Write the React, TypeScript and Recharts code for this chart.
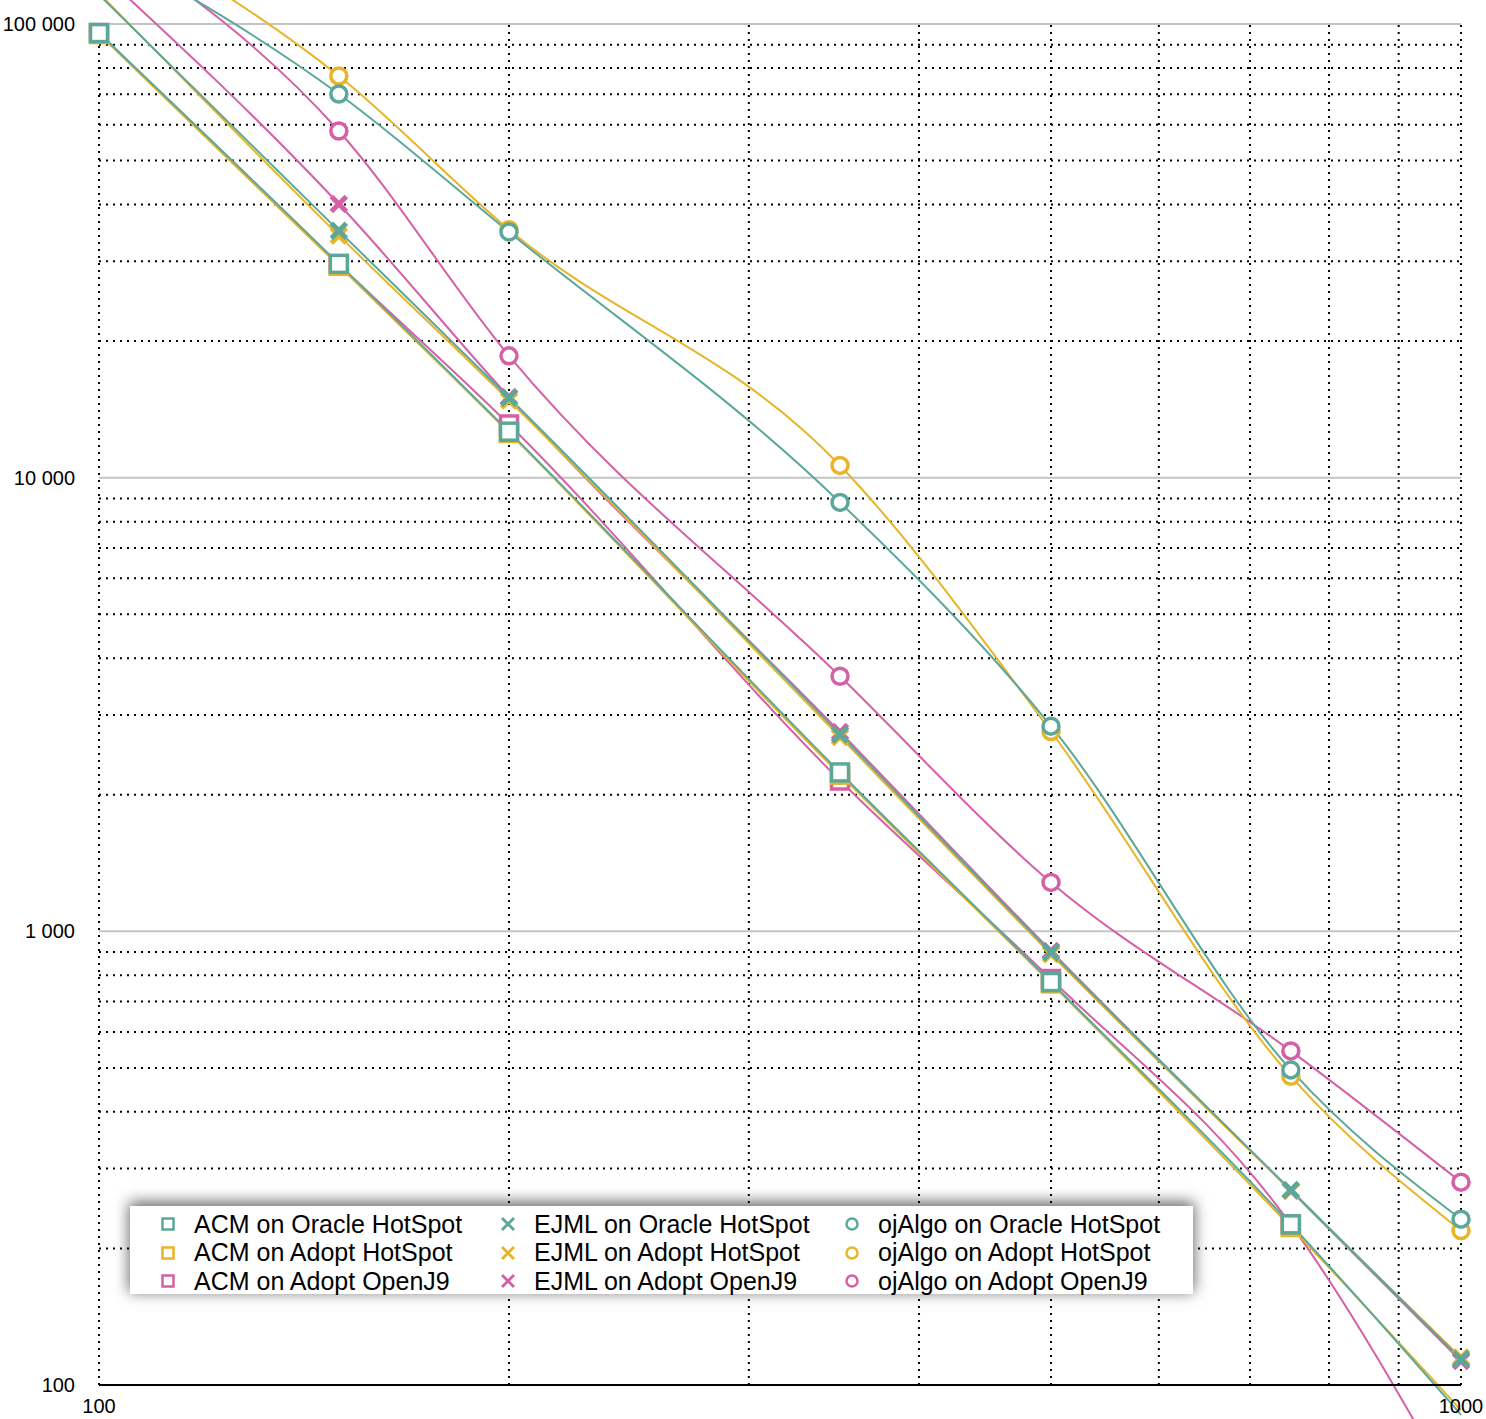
import React from "react";
import {
  Legend,
  Line,
  LineChart,
  ReferenceLine,
  XAxis,
  YAxis,
} from "recharts";

// matrix size (x) and execution time (y), both on log axes
const sizes = [100, 150, 200, 350, 500, 750, 1000];

const acmOracleHotSpot = [95500, 29600, 12630, 2240, 773, 226, 86];
const acmAdoptHotSpot = [95000, 29300, 12550, 2215, 768, 223, 88];
const acmAdoptOpenJ9 = [95500, 29500, 13100, 2150, 785, 226, 55];
const ejmlOracleHotSpot = [116000, 35000, 15000, 2716, 899, 269, 114];
const ejmlAdoptHotSpot = [117000, 34200, 14800, 2680, 890, 268, 115];
const ejmlAdoptOpenJ9 = [131000, 40100, 15050, 2750, 905, 268, 113];
const ojAlgoOracleHotSpot = [150000, 70100, 34800, 8820, 2833, 495, 232];
const ojAlgoAdoptHotSpot = [170000, 76800, 35200, 10640, 2757, 479, 219];
const ojAlgoAdoptOpenJ9 = [160000, 58100, 18560, 3650, 1282, 545, 280];

const yTicks = [100, 1000, 10000, 100000];
const yMinor = [
  200, 300, 400, 500, 600, 700, 800, 900,
  2000, 3000, 4000, 5000, 6000, 7000, 8000, 9000,
  20000, 30000, 40000, 50000, 60000, 70000, 80000, 90000,
];
const xTicks = [100, 1000];
const xGrid = [100, 200, 300, 400, 500, 600, 700, 800, 900, 1000];

const TEAL = "#5ba89b";
const YELLOW = "#e8b428";
const PINK = "#d660a6";

type Kind = "square" | "cross" | "circle";

const series: { key: string; name: string; values: number[]; color: string; kind: Kind }[] = [
  { key: "acmOracleHotSpot", name: "ACM on Oracle HotSpot", values: acmOracleHotSpot, color: TEAL, kind: "square" },
  { key: "acmAdoptHotSpot", name: "ACM on Adopt HotSpot", values: acmAdoptHotSpot, color: YELLOW, kind: "square" },
  { key: "acmAdoptOpenJ9", name: "ACM on Adopt OpenJ9", values: acmAdoptOpenJ9, color: PINK, kind: "square" },
  { key: "ejmlOracleHotSpot", name: "EJML on Oracle HotSpot", values: ejmlOracleHotSpot, color: TEAL, kind: "cross" },
  { key: "ejmlAdoptHotSpot", name: "EJML on Adopt HotSpot", values: ejmlAdoptHotSpot, color: YELLOW, kind: "cross" },
  { key: "ejmlAdoptOpenJ9", name: "EJML on Adopt OpenJ9", values: ejmlAdoptOpenJ9, color: PINK, kind: "cross" },
  { key: "ojAlgoOracleHotSpot", name: "ojAlgo on Oracle HotSpot", values: ojAlgoOracleHotSpot, color: TEAL, kind: "circle" },
  { key: "ojAlgoAdoptHotSpot", name: "ojAlgo on Adopt HotSpot", values: ojAlgoAdoptHotSpot, color: YELLOW, kind: "circle" },
  { key: "ojAlgoAdoptOpenJ9", name: "ojAlgo on Adopt OpenJ9", values: ojAlgoAdoptOpenJ9, color: PINK, kind: "circle" },
];

const data = sizes.map((size, i) => {
  const row: Record<string, number> = { size };
  series.forEach((s) => (row[s.key] = s.values[i]));
  return row;
});

// pink drawn first, teal last (teal sits on top in the original)
const drawOrder = [PINK, YELLOW, TEAL].flatMap((c) => series.filter((s) => s.color === c));

const FONT = '"Liberation Sans", Arial, Helvetica, sans-serif';

function Glyph({ kind, color, cx, cy, s }: { kind: Kind; color: string; cx: number; cy: number; s: number }) {
  const big = s > 6.5;
  if (kind === "square") {
    return (
      <rect x={cx - s} y={cy - s} width={2 * s} height={2 * s} fill="#fff" stroke={color} strokeWidth={big ? 3.5 : 2.5} />
    );
  }
  if (kind === "circle") {
    return <circle cx={cx} cy={cy} r={s} fill="#fff" stroke={color} strokeWidth={big ? 3.5 : 2.5} />;
  }
  return (
    <g stroke={color} strokeWidth={big ? 5 : 3}>
      <line x1={cx - s} y1={cy - s} x2={cx + s} y2={cy + s} />
      <line x1={cx - s} y1={cy + s} x2={cx + s} y2={cy - s} />
    </g>
  );
}

function makeDot(kind: Kind, color: string) {
  return (props: any) => {
    const { cx, cy, value, index } = props;
    if (value == null || value < 100 || value > 100000 || cx == null || cy == null) {
      return <g key={`d-${index}`} />;
    }
    const s = kind === "circle" ? 8 : kind === "square" ? 8.5 : 7.5;
    return (
      <g key={`d-${index}`}>
        <Glyph kind={kind} color={color} cx={cx} cy={cy} s={s} />
      </g>
    );
  };
}

const fmt = (v: number) => String(v).replace(/\B(?=(\d{3})+(?!\d))/g, " ");

function LegendBox() {
  const cols = [0, 1, 2].map((c) => series.slice(c * 3, c * 3 + 3));
  const colLeft = [24, 364, 708];
  return (
    <div
      style={{
        position: "relative",
        width: 1063,
        height: 88,
        background: "#fff",
        boxShadow: "0 -3px 14px 1px rgba(0,0,0,0.6)",
        fontFamily: FONT,
        fontSize: 25,
        color: "#000",
      }}
    >
      {cols.map((col, ci) =>
        col.map((s, ri) => (
          <div
            key={s.key}
            style={{
              position: "absolute",
              left: colLeft[ci],
              top: 4 + ri * 28.5,
              height: 28,
              display: "flex",
              alignItems: "center",
              whiteSpace: "nowrap",
            }}
          >
            <svg width={28} height={28} style={{ marginRight: 12 }}>
              <Glyph kind={s.kind} color={s.color} cx={14} cy={14} s={s.kind === "cross" ? 6 : 5.5} />
            </svg>
            {s.name}
          </div>
        ))
      )}
    </div>
  );
}

export default function App() {
  return (
    <div style={{ position: "absolute", left: 0, top: 0, width: 1486, height: 1419, background: "#fff" }}>
      <style>{`.recharts-wrapper [clip-path] { clip-path: none !important; }`}</style>
      <LineChart
        width={1486}
        height={1419}
        data={data}
        margin={{ top: 24, right: 25, bottom: 0, left: 0 }}
      >
        {yMinor.map((v) => (
          <ReferenceLine key={`ym-${v}`} y={v} stroke="#000" strokeWidth={2} strokeDasharray="2 5" />
        ))}
        {xGrid.map((v) => (
          <ReferenceLine key={`xg-${v}`} x={v} stroke="#000" strokeWidth={2} strokeDasharray="2 5" />
        ))}
        {yTicks.slice(1).map((v) => (
          <ReferenceLine key={`yM-${v}`} y={v} stroke="#c4c4c4" strokeWidth={2} />
        ))}
        <XAxis
          dataKey="size"
          type="number"
          scale="log"
          domain={[100, 1000]}
          ticks={xTicks}
          allowDataOverflow
          height={34}
          tickSize={0}
          tickMargin={14}
          axisLine={{ stroke: "#000", strokeWidth: 2 }}
          tickLine={false}
          tick={{ fill: "#000", fontSize: 20, fontFamily: FONT }}
          interval={0}
        />
        <YAxis
          type="number"
          scale="log"
          domain={[100, 100000]}
          ticks={yTicks}
          allowDataOverflow
          width={99}
          tickSize={0}
          tickMargin={24}
          axisLine={false}
          tickLine={false}
          tickFormatter={fmt}
          tick={{ fill: "#000", fontSize: 20, fontFamily: FONT }}
          interval={0}
        />
        {drawOrder.map((s) => (
          <Line
            key={s.key}
            dataKey={s.key}
            name={s.name}
            type="monotone"
            stroke={s.color}
            strokeWidth={2}
            dot={makeDot(s.kind, s.color)}
            activeDot={false}
            isAnimationActive={false}
          />
        ))}
        <Legend
          layout="horizontal"
          verticalAlign="middle"
          align="center"
          wrapperStyle={{ left: 130, top: 1206, width: 1063, height: 88 }}
          content={() => <LegendBox />}
        />
      </LineChart>
    </div>
  );
}
